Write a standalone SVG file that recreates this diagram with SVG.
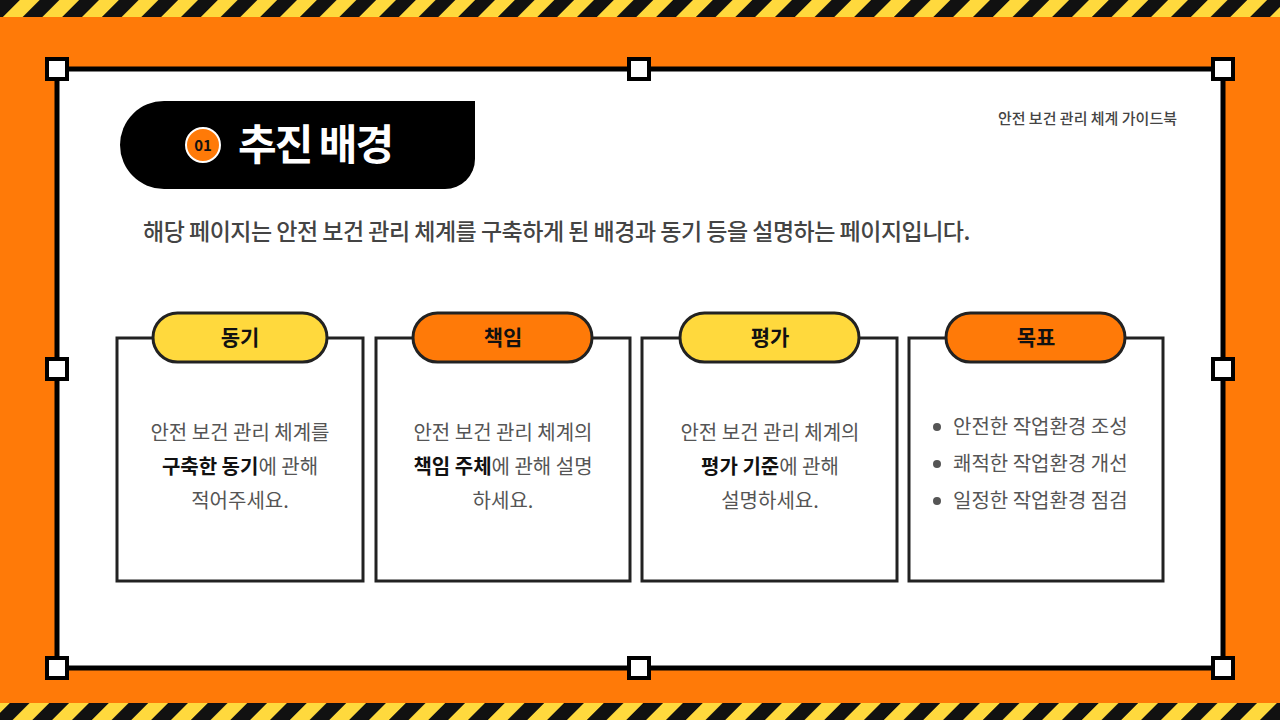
<svg xmlns="http://www.w3.org/2000/svg" width="1280" height="720" viewBox="0 0 1280 720">
<defs>
<pattern id="haz" width="28" height="28" patternUnits="userSpaceOnUse" patternTransform="rotate(45)">
<rect width="28" height="28" fill="#FFD93D"/><rect width="14" height="28" fill="#111"/>
</pattern>
<style>
text{font-family:"Noto Sans CJK KR","Noto Sans",sans-serif}
.card{fill:#fff;stroke:#222;stroke-width:3}
.pill{stroke:#222;stroke-width:3}
.h{fill:#fff;stroke:#000;stroke-width:4}
.lbl{font-size:21px;font-weight:700;fill:#111;text-anchor:middle}
.body{font-size:20px;fill:#555;text-anchor:middle}
.b{font-weight:700;fill:#111}
</style>
</defs>
<rect width="1280" height="720" fill="#FF7A08"/>
<rect width="1280" height="17" fill="url(#haz)"/>
<rect y="703" width="1280" height="17" fill="url(#haz)"/>
<rect x="57" y="69" width="1166" height="599" fill="#fff" stroke="#000" stroke-width="5"/>
<g id="handles">
<rect class="h" x="47" y="59" width="20" height="20"/><rect class="h" x="629" y="59" width="20" height="20"/><rect class="h" x="1213" y="59" width="20" height="20"/>
<rect class="h" x="47" y="359" width="20" height="20"/><rect class="h" x="1213" y="359" width="20" height="20"/>
<rect class="h" x="47" y="658" width="20" height="20"/><rect class="h" x="629" y="658" width="20" height="20"/><rect class="h" x="1213" y="658" width="20" height="20"/>
</g>
<g id="title">
<path d="M164 101 H475 V159 A30 30 0 0 1 445 189 H164 A44 44 0 0 1 164 101 Z" fill="#000"/>
<circle cx="203" cy="145" r="17" fill="#FF7A08" stroke="#fff" stroke-width="2"/>
<text x="203" y="151" font-size="15" font-weight="700" fill="#111" text-anchor="middle">01</text>
<text x="238" y="160" font-size="42" font-weight="700" fill="#fff" letter-spacing="-2">추진 배경</text>
</g>
<text x="1177" y="124" font-size="15" fill="#444" text-anchor="end" font-weight="500">안전 보건 관리 체계 가이드북</text>
<text x="143" y="240" font-size="23" fill="#444" font-weight="500" letter-spacing="-0.5">해당 페이지는 안전 보건 관리 체계를 구축하게 된 배경과 동기 등을 설명하는 페이지입니다.</text>
<g id="card1">
<rect class="card" x="117" y="338" width="246" height="243"/>
<rect class="pill" x="153" y="313" width="174" height="49" rx="24.5" fill="#FFD93D"/>
<text class="lbl" x="240" y="345">동기</text>
<text class="body" x="240" y="440">안전 보건 관리 체계를</text>
<text class="body" x="240" y="474"><tspan class="b">구축한 동기</tspan>에 관해</text>
<text class="body" x="240" y="508">적어주세요.</text>
</g>
<g id="card2">
<rect class="card" x="376" y="338" width="254" height="243"/>
<rect class="pill" x="413" y="313" width="179" height="49" rx="24.5" fill="#FF7A08"/>
<text class="lbl" x="503" y="345">책임</text>
<text class="body" x="503" y="440">안전 보건 관리 체계의</text>
<text class="body" x="503" y="474"><tspan class="b">책임 주체</tspan>에 관해 설명</text>
<text class="body" x="503" y="508">하세요.</text>
</g>
<g id="card3">
<rect class="card" x="642" y="338" width="255" height="243"/>
<rect class="pill" x="680" y="313" width="179" height="49" rx="24.5" fill="#FFD93D"/>
<text class="lbl" x="770" y="345">평가</text>
<text class="body" x="770" y="440">안전 보건 관리 체계의</text>
<text class="body" x="770" y="474"><tspan class="b">평가 기준</tspan>에 관해</text>
<text class="body" x="770" y="508">설명하세요.</text>
</g>
<g id="card4">
<rect class="card" x="909" y="338" width="254" height="243"/>
<rect class="pill" x="946" y="313" width="179" height="49" rx="24.5" fill="#FF7A08"/>
<text class="lbl" x="1036" y="345">목표</text>
<circle cx="937" cy="427" r="4" fill="#555"/><circle cx="937" cy="464" r="4" fill="#555"/><circle cx="937" cy="501" r="4" fill="#555"/>
<text x="953" y="434" font-size="20" fill="#555">안전한 작업환경 조성</text>
<text x="953" y="471" font-size="20" fill="#555">쾌적한 작업환경 개선</text>
<text x="953" y="508" font-size="20" fill="#555">일정한 작업환경 점검</text>
</g>
</svg>
